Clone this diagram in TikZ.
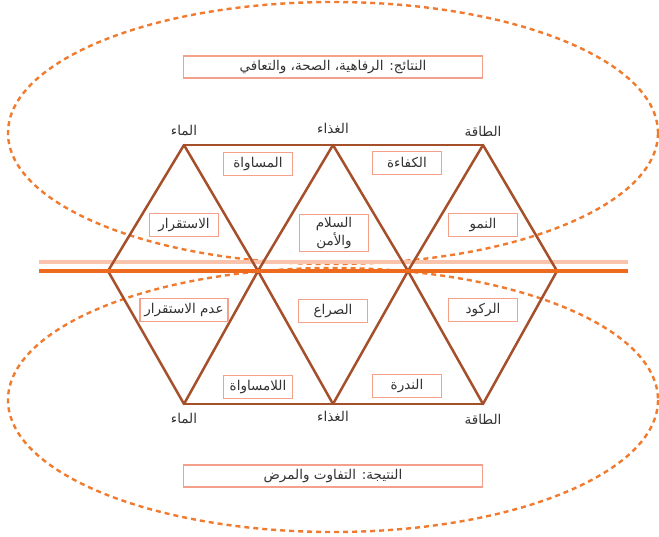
\documentclass[tikz,border=0pt]{standalone}
\usepackage{fontspec}
\newfontfamily\arabicfont[Script=Arabic]{DejaVu Sans}
\TeXXeTstate=1
\definecolor{brownline}{HTML}{A5502A}
\definecolor{dashorange}{HTML}{F07A2D}
\definecolor{lightline}{HTML}{FAC4AC}
\definecolor{orangeline}{HTML}{EE6A1E}
\definecolor{boxline}{HTML}{F4A08A}
\definecolor{txt}{HTML}{333333}
\tikzset{
  ell/.style={draw=dashorange, line width=2.4pt, dash pattern=on 5pt off 4pt},
  tri/.style={draw=brownline, line width=2.5pt, line join=round},
  lbox/.style={draw=boxline, line width=1.3pt, fill=white, minimum width=69pt, minimum height=23pt, inner sep=0pt, text=txt, font=\arabicfont\fontsize{13.5}{15}\selectfont, align=center},
  wbox/.style={lbox, minimum width=299pt, minimum height=22pt},
  vlabel/.style={text=txt, font=\arabicfont\fontsize{13.5}{15}\selectfont, inner sep=0pt}
}
\begin{document}
\begin{tikzpicture}[x=1pt,y=-1pt]
\useasboundingbox (0,0) rectangle (659,537);
% ellipses
\draw[ell] (333,133) ellipse [x radius=325, y radius=131];
\draw[ell] (333,400) ellipse [x radius=325, y radius=132];
% light line
\coordinate (la) at (39,262);
\coordinate (lb) at (628,262);
\draw[lightline, line width=3.5pt] (la) -- (lb);
% vertices
\coordinate (t1) at (184,145);
\coordinate (t2) at (333,145);
\coordinate (t3) at (483,145);
\coordinate (b0) at (108,271);
\coordinate (b1) at (258,271);
\coordinate (b2) at (408,271);
\coordinate (b3) at (557,271);
\coordinate (d1) at (184,404);
\coordinate (d2) at (333,404);
\coordinate (d3) at (483,404);
% triangles
\draw[tri] (b0) -- (t1) -- (b1) -- (t2) -- (b2) -- (t3) -- (b3);
\draw[tri] (t1) -- (t3);
\draw[tri] (b0) -- (d1) -- (b1) -- (d2) -- (b2) -- (d3) -- (b3);
\draw[tri] (d1) -- (d3);
% orange line
\coordinate (oa) at (39,271);
\coordinate (ob) at (628,271);
\draw[orangeline, line width=3.5pt] (oa) -- (ob);
% vertex labels
\node[vlabel] (lt1) at (184,131) {\beginR الماء\endR};
\node[vlabel] (lt2) at (333,128) {\beginR الغذاء\endR};
\node[vlabel] (lt3) at (483,131) {\beginR الطاقة\endR};
\node[vlabel] (ld1) at (184,419) {\beginR الماء\endR};
\node[vlabel] (ld2) at (333,416) {\beginR الغذاء\endR};
\node[vlabel] (ld3) at (483,419) {\beginR الطاقة\endR};
% boxes
\node[wbox] (top) at (333,67) {\beginR النتائج: الرفاهية، الصحة، والتعافي\endR};
\node[wbox] (bottom) at (333,476) {\beginR النتيجة: التفاوت والمرض\endR};
\node[lbox] (eq) at (258,164) {\beginR المساواة\endR};
\node[lbox] (eff) at (407,163) {\beginR الكفاءة\endR};
\node[lbox] (stab) at (184,225) {\beginR الاستقرار\endR};
\node[lbox, minimum height=37pt] (peace) at (334,233) {\beginR السلام\endR\\\beginR والأمن\endR};
\node[lbox] (grow) at (483,225) {\beginR النمو\endR};
\node[lbox, minimum width=88pt] (instab) at (184,310) {\beginR عدم الاستقرار\endR};
\node[lbox] (conf) at (333,311) {\beginR الصراع\endR};
\node[lbox] (stag) at (483,310) {\beginR الركود\endR};
\node[lbox] (ineq) at (258,387) {\beginR اللامساواة\endR};
\node[lbox] (scar) at (407,386) {\beginR الندرة\endR};
\end{tikzpicture}
\end{document}
